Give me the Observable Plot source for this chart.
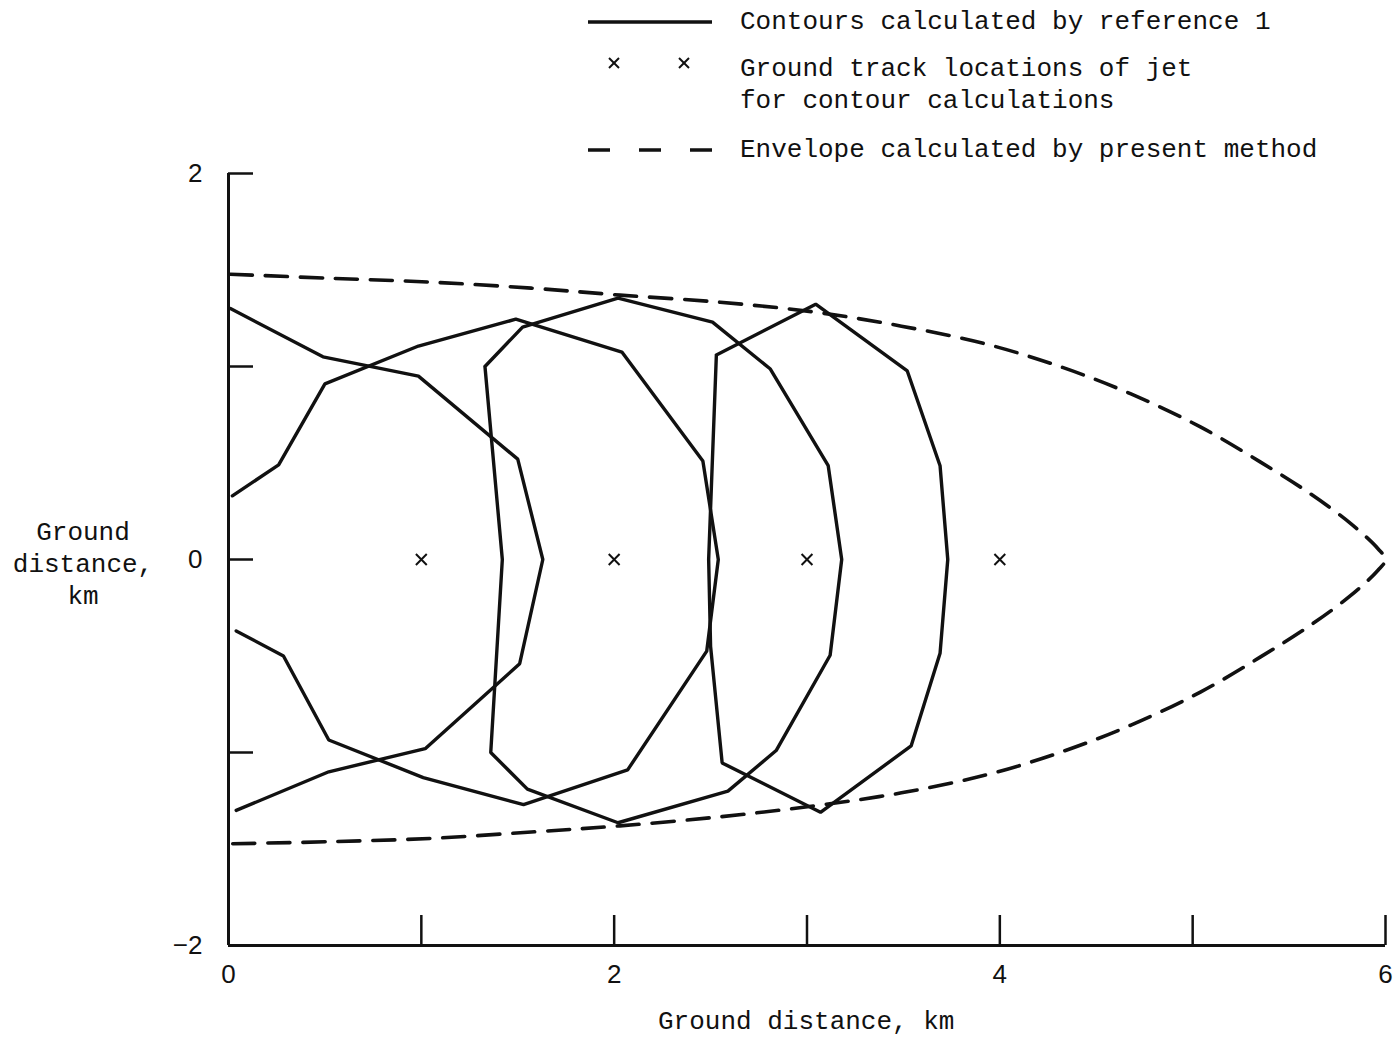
<!DOCTYPE html>
<html>
<head>
<meta charset="utf-8">
<script src="https://cdn.jsdelivr.net/npm/d3@7"></script>
<script src="https://cdn.jsdelivr.net/npm/@observablehq/plot@0.6"></script>
<style>
  html, body { margin: 0; padding: 0; background: #fff; }
  #wrap { position: relative; width: 1394px; height: 1037px; overflow: hidden; }
  #chart { position: absolute; left: 0; top: 0; }
  .mono { font-family: "Liberation Mono", "DejaVu Sans Mono", monospace; font-size: 26px; color: #111; position: absolute; white-space: pre; line-height: 32px; }
  #legend svg { position: absolute; }
</style>
</head>
<body>
<div id="wrap">
  <div id="chart"></div>
  <div id="legend"></div>
  <div class="mono" id="ytitle" style="left:0; top:517px; width:166px; text-align:center;">Ground<br>distance,<br>km</div>
  <div class="mono" style="left:658px; top:1006px;">Ground distance, km</div>
</div>
<script>
// ---- data (km) ----
const xTicks = [0, 1, 2, 3, 4, 5, 6];
const xTickLabels = [0, 2, 4, 6];
const yTicks = [-2, -1, 0, 1, 2];
const yTickLabels = [-2, 0, 2];

// jet ground-track locations
const jetX = [1, 2, 3, 4];
const jetY = [0, 0, 0, 0];

// contours calculated by reference 1
const contourA = [[0.01,1.30],[0.49,1.05],[0.985,0.95],[1.50,0.52],[1.63,0.0],[1.51,-0.54],[1.02,-0.98],[0.52,-1.10],[0.04,-1.30]];
const contourB = [[0.02,0.33],[0.26,0.49],[0.50,0.91],[0.985,1.106],[1.49,1.245],[2.04,1.075],[2.46,0.51],[2.54,0.0],[2.48,-0.475],[2.07,-1.09],[1.53,-1.27],[1.01,-1.13],[0.52,-0.935],[0.285,-0.50],[0.04,-0.37]];
const contourC = [[1.33,1.0],[1.525,1.204],[2.02,1.354],[2.51,1.23],[2.81,0.987],[3.11,0.486],[3.18,0.0],[3.12,-0.496],[2.84,-0.99],[2.59,-1.20],[2.02,-1.364],[1.55,-1.19],[1.36,-1.0],[1.42,0.0],[1.33,1.0]];
const contourD = [[2.53,1.06],[3.045,1.323],[3.52,0.977],[3.69,0.486],[3.73,0.0],[3.69,-0.486],[3.54,-0.966],[3.07,-1.31],[2.56,-1.054],[2.50,-0.45],[2.49,0.0],[2.53,1.06]];

// envelope calculated by present method
const envelopeX = [0.01,0.53,1.05,1.57,2.03,2.55,3.04,3.49,3.93,4.32,4.68,5.04,5.35,5.61,5.82,5.96,6.0,5.96,5.82,5.61,5.35,5.04,4.68,4.32,3.93,3.49,3.04,2.55,2.03,1.57,1.05,0.53,0.01];
const envelopeY = [1.478,1.457,1.437,1.406,1.370,1.333,1.282,1.209,1.116,0.997,0.858,0.687,0.506,0.341,0.186,0.057,0,-0.057,-0.186,-0.341,-0.506,-0.687,-0.858,-0.997,-1.116,-1.209,-1.276,-1.333,-1.380,-1.412,-1.445,-1.462,-1.473];

// ---- build tables ----
const contours = [
  ...contourA.map(([x, y]) => ({x, y, id: "A"})),
  ...contourB.map(([x, y]) => ({x, y, id: "B"})),
  ...contourC.map(([x, y]) => ({x, y, id: "C"})),
  ...contourD.map(([x, y]) => ({x, y, id: "D"}))
];
const envelope = envelopeX.map((x, i) => ({x, y: envelopeY[i]}));
const jets = jetX.map((x, i) => ({x, y: jetY[i]}));

const plot = Plot.plot({
  width: 1394,
  height: 1037,
  marginLeft: 228,
  marginRight: 9,
  marginTop: 173,
  marginBottom: 92,
  x: {domain: [0, 6], label: null},
  y: {domain: [-2, 2], label: null},
  style: {fontFamily: "'Liberation Sans', Arial, sans-serif", fontSize: "26px", color: "#111", background: "#fff"},
  marks: [
    Plot.axisX({ticks: xTicks, tickSize: -30, strokeWidth: 2.5, text: null, label: null}),
    Plot.axisX({ticks: xTickLabels, tickSize: 0, tickPadding: 19, fontSize: 26, label: null, tickFormat: d => String(d)}),
    Plot.axisY({ticks: yTicks, tickSize: -25, strokeWidth: 2.5, text: null, label: null}),
    Plot.axisY({ticks: yTickLabels, tickSize: 0, tickPadding: 26, fontSize: 26, label: null, tickFormat: d => d < 0 ? "\u2212" + Math.abs(d) : String(d)}),
    Plot.ruleX([0], {y1: -2, y2: 2, strokeWidth: 3, stroke: "#111"}),
    Plot.ruleY([-2], {x1: 0, x2: 6, strokeWidth: 3, stroke: "#111"}),
    Plot.line(contours, {x: "x", y: "y", z: "id", stroke: "#111", strokeWidth: 3.4, strokeLinejoin: "miter"}),
    Plot.line(envelope, {x: "x", y: "y", curve: "catmull-rom", stroke: "#111", strokeWidth: 3.6, strokeDasharray: "22,13"}),
    Plot.dot(jets, {x: "x", y: "y", symbol: "times", r: 5, stroke: "#111", strokeWidth: 2})
  ]
});
document.getElementById("chart").appendChild(plot);

// ---- legend ----
const legend = document.getElementById("legend");
legend.innerHTML = `
  <svg style="left:0;top:0" width="1394" height="170">
    <line x1="588" x2="712" y1="22" y2="22" stroke="#111" stroke-width="3.4"/>
    <g stroke="#111" stroke-width="2">
      <line x1="609" x2="619" y1="58" y2="68"/><line x1="609" x2="619" y1="68" y2="58"/>
      <line x1="679" x2="689" y1="58" y2="68"/><line x1="679" x2="689" y1="68" y2="58"/>
    </g>
    <line x1="588" x2="712" y1="150" y2="150" stroke="#111" stroke-width="3.6" stroke-dasharray="22,29"/>
  </svg>
  <div class="mono" style="left:740px; top:6px;">Contours calculated by reference 1</div>
  <div class="mono" style="left:740px; top:53px;">Ground track locations of jet\nfor contour calculations</div>
  <div class="mono" style="left:740px; top:134px;">Envelope calculated by present method</div>
`;
</script>
</body>
</html>
